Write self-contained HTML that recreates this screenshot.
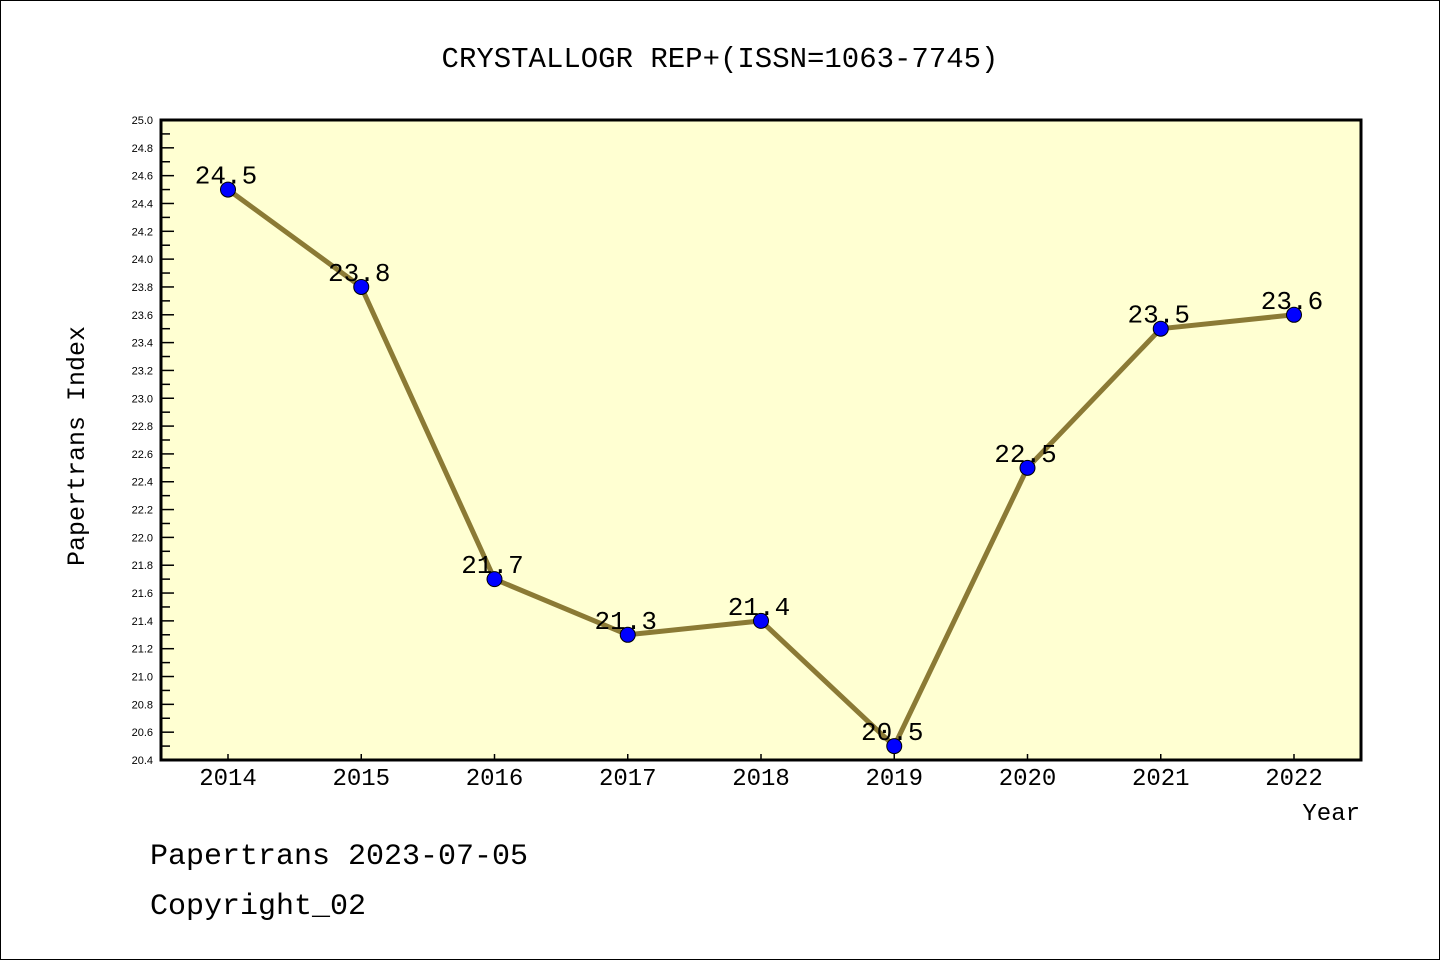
<!DOCTYPE html>
<html><head><meta charset="utf-8"><style>
html,body{margin:0;padding:0;background:#fff}
svg{display:block}
text{font-family:"Liberation Mono","DejaVu Sans Mono",monospace;fill:#000}
.sm{font-family:"Liberation Sans","DejaVu Sans",sans-serif}
</style></head><body>
<svg id="chart" width="1440" height="960" xmlns="http://www.w3.org/2000/svg">
<rect x="0.5" y="0.5" width="1439" height="959" fill="#fff" stroke="#000"/>
<text x="720" y="67" font-size="29" text-anchor="middle">CRYSTALLOGR REP+(ISSN=1063-7745)</text>
<rect x="161" y="120" width="1200" height="640" fill="#ffffd2"/>
<g id="yaxis"></g>
<g id="xaxis"></g>
<g id="series"></g>
<rect x="161" y="120" width="1200" height="640" fill="none" stroke="#000" stroke-width="3"/>
<text transform="translate(84,446) rotate(-90)" font-size="25" text-anchor="middle">Papertrans Index</text>
<text x="1360" y="820" font-size="24" text-anchor="end">Year</text>
<text x="150" y="864" font-size="30">Papertrans 2023-07-05</text>
<text x="150" y="914" font-size="30">Copyright_02</text>
</svg>
<script>
const years = [2014,2015,2016,2017,2018,2019,2020,2021,2022];
const values = [24.5,23.8,21.7,21.3,21.4,20.5,22.5,23.5,23.6];
const valueLabels = ["24.5","23.8","21.7","21.3","21.4","20.5","22.5","23.5","23.6"];
const yMin = 20.4, yMax = 25.0;
const yTickLabels = ["20.4","20.6","20.8","21.0","21.2","21.4","21.6","21.8","22.0","22.2","22.4","22.6","22.8","23.0","23.2","23.4","23.6","23.8","24.0","24.2","24.4","24.6","24.8","25.0"];
const NS = "http://www.w3.org/2000/svg";
const L = 161, R = 1361, T = 120, B = 760;
function yS(v){return B - (v - yMin) / (yMax - yMin) * (B - T);}
function xS(yr){return 228 + (yr - years[0]) * (1294 - 228) / (years[years.length-1] - years[0]);}
function mk(tag, attrs, parent){const e=document.createElementNS(NS,tag);for(const k in attrs)e.setAttribute(k,attrs[k]);parent.appendChild(e);return e;}
const ya = document.getElementById('yaxis');
for (let i = 0; i < yTickLabels.length; i++) {
  const v = parseFloat(yTickLabels[i]); const y = yS(v);
  const t = mk('line',{x1:L,x2:L+13,y1:y,y2:y,stroke:'#000','stroke-width':1.5},ya);
  
  
  if (i < yTickLabels.length-1) {
    const ym = yS(v + 0.1);
    const m = mk('line',{x1:L,x2:L+9,y1:ym,y2:ym,stroke:'#000','stroke-width':1.5},ya);
    
    
  }
  const tx = mk('text',{x:153,y:y+4,'font-size':11,'text-anchor':'end','class':'sm'},ya);
  tx.textContent = yTickLabels[i];
  
  
}
const xa = document.getElementById('xaxis');
years.forEach(yr => {
  const x = xS(yr);
  const t = mk('line',{x1:x,x2:x,y1:B,y2:B-6,stroke:'#000','stroke-width':1.5},xa);
  
  
  const tx = mk('text',{x:x,y:785,'font-size':24,'text-anchor':'middle'},xa);
  tx.textContent = yr;
  
  
});
const s = document.getElementById('series');
const pts = years.map((yr,i)=>xS(yr)+','+yS(values[i])).join(' ');
const pl = mk('polyline',{points:pts,fill:'none',stroke:'#8b7a35','stroke-width':5,'stroke-linejoin':'round'},s);


years.forEach((yr,i)=>{
  const c = mk('circle',{cx:xS(yr),cy:yS(values[i]),r:7.5,fill:'#0000ff',stroke:'#000','stroke-width':1},s);
  
  
  const tx = mk('text',{x:xS(yr)-2,y:yS(values[i])-6,'font-size':26,'text-anchor':'middle'},s);
  tx.textContent = valueLabels[i];
  
  
});
</script>
</body></html>
